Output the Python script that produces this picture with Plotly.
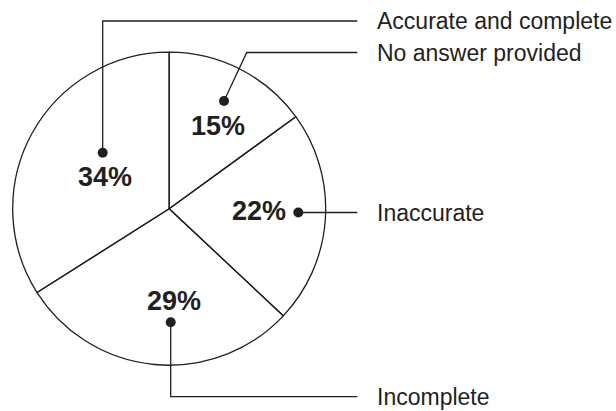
import plotly.graph_objects as go

# Survey result: share of answers per category
categories = ["No answer provided", "Inaccurate", "Incomplete", "Accurate and complete"]
shares = [15, 22, 29, 34]

W, H = 616, 411
INK = "#231f20"

# Pie placement in pixels (origin top-left)
CX, CY, R = 169.2, 208.7, 156.5

# Callout layout per category, in pixels: dot, elbow, and where the percentage sits
callouts = {
    "No answer provided": dict(dot=(224.0, 101.0), elbow=(246.7, 52.5), pct=(217.5, 125.8)),
    "Inaccurate": dict(dot=(298.3, 212.5), elbow=None, pct=(259.0, 210.8)),
    "Incomplete": dict(dot=(170.7, 322.3), elbow=(170.7, 396.7), pct=(173.7, 300.5)),
    "Accurate and complete": dict(dot=(102.7, 152.7), elbow=(102.7, 21.0), pct=(104.7, 176.7)),
}
LINE_END_X = 357.3
LABEL_X = 374.5

fig = go.Figure()

# Leader lines and dots (drawn under a transparent pie so its outline stays crisp)
for cat in categories:
    c = callouts[cat]
    dx, dy = c["dot"]
    if c["elbow"] is None:
        xs, ys = [dx, LINE_END_X], [dy, dy]
        label_y = dy
    else:
        ex, ey = c["elbow"]
        xs, ys = [dx, ex, LINE_END_X], [dy, ey, ey]
        label_y = ey
    fig.add_trace(go.Scatter(
        x=xs, y=ys, mode="lines",
        line=dict(color=INK, width=1.3),
        hoverinfo="skip", showlegend=False,
    ))
    fig.add_trace(go.Scatter(
        x=[dx], y=[dy], mode="markers",
        marker=dict(color=INK, size=10),
        hoverinfo="skip", showlegend=False,
    ))
    fig.add_annotation(
        x=LABEL_X, y=label_y, xref="x", yref="y",
        text=cat, showarrow=False, xanchor="left", yanchor="middle",
        font=dict(family="Liberation Sans, Arial, sans-serif", size=23, color=INK),
    )

for cat, v in zip(categories, shares):
    px, py = callouts[cat]["pct"]
    fig.add_annotation(
        x=px, y=py, xref="x", yref="y",
        text=f"<b>{v}%</b>", showarrow=False, xanchor="center", yanchor="middle",
        font=dict(family="Liberation Sans, Arial, sans-serif", size=27, color=INK),
    )

fig.add_trace(go.Pie(
    labels=categories, values=shares,
    sort=False, direction="clockwise", rotation=0,
    marker=dict(colors=["rgba(255,255,255,0)"] * len(shares),
                line=dict(color=INK, width=1.3)),
    textinfo="none", hoverinfo="label+percent",
    showlegend=False,
    domain=dict(x=[(CX - R) / W, (CX + R) / W],
                y=[(H - CY - R) / H, (H - CY + R) / H]),
))

fig.update_layout(
    width=W, height=H,
    margin=dict(l=0, r=0, t=0, b=0),
    paper_bgcolor="white", plot_bgcolor="rgba(0,0,0,0)",
    xaxis=dict(range=[0, W], visible=False, fixedrange=True, domain=[0, 1]),
    yaxis=dict(range=[H, 0], visible=False, fixedrange=True, domain=[0, 1]),
)

fig.write_html("out.html")
